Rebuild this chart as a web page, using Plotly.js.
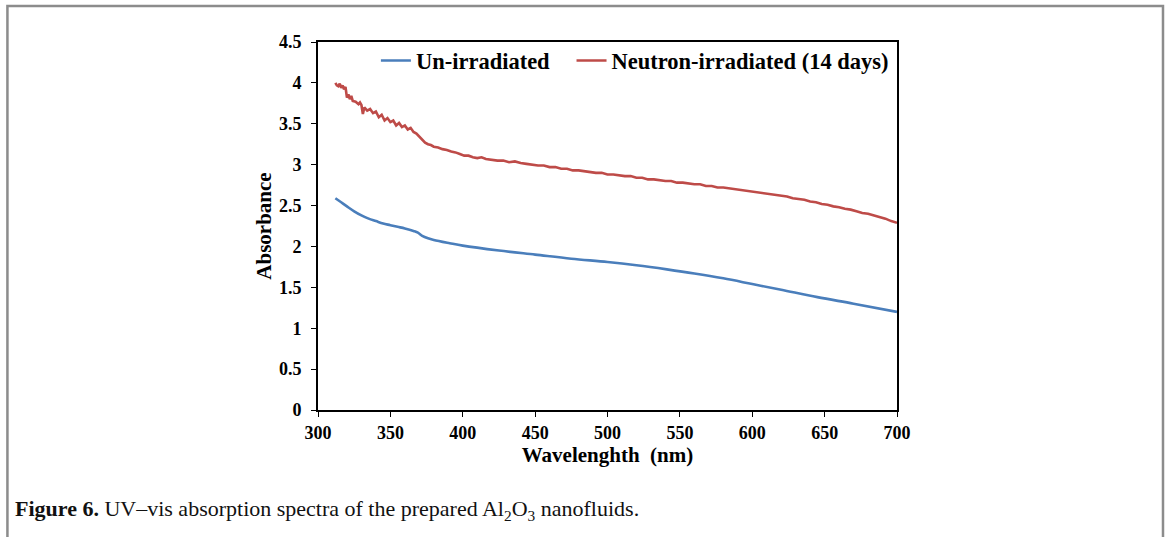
<!DOCTYPE html>
<html>
<head>
<meta charset="utf-8">
<script src="https://cdn.plot.ly/plotly-3.0.1.min.js"></script>
<style>
html,body{margin:0;padding:0;background:#fff;}
#chart{width:1167px;height:537px;}
</style>
</head>
<body>
<div id="chart"></div>
<script>
// Un-irradiated sample
const wlUn = [312,316,320,325,330,335,340,345,350,355,360,366,369,372,376,380,391,400,425,450,475,500,520,541,560,580,600,620,645,670,700];
const absUn = [2.59,2.54,2.49,2.43,2.38,2.34,2.31,2.28,2.26,2.24,2.22,2.19,2.17,2.13,2.10,2.08,2.04,2.01,1.95,1.90,1.85,1.81,1.77,1.72,1.67,1.61,1.54,1.47,1.38,1.30,1.20];

// Neutron-irradiated (14 days) sample
const wlIrr = [
  312,313,314,315,316,317,318,319,320,321,322,323,324,326,328,329,330,331,332,
  334,336,338,340,342,344,346,348,350,352,354,356,358,360,362,364,366,368,370,372,374,376,378,380,
  383,386,389,392,395,398,401,404,407,410,413,416,
  420,424,428,432,436,440,444,448,452,456,460,464,468,472,476,480,484,488,492,496,500,
  504,508,512,516,520,524,528,532,536,540,544,548,
  552,556,560,564,568,572,576,580,584,588,592,596,600,
  604,608,612,616,620,624,628,632,636,640,644,648,
  652,656,660,664,668,672,676,680,684,688,692,696,700];
const absIrr = [
  4.00,3.97,3.96,3.99,3.94,3.97,3.92,3.95,3.82,3.86,3.80,3.84,3.78,3.77,3.74,3.76,3.73,3.62,3.70,
  3.66,3.68,3.63,3.65,3.58,3.61,3.54,3.57,3.52,3.54,3.48,3.51,3.46,3.48,3.43,3.45,3.40,3.38,3.34,3.30,3.27,3.25,3.24,3.22,
  3.21,3.19,3.18,3.16,3.15,3.13,3.11,3.11,3.09,3.08,3.09,3.07,
  3.06,3.05,3.05,3.03,3.04,3.02,3.01,3.00,2.99,2.99,2.97,2.97,2.95,2.95,2.93,2.93,2.92,2.91,2.90,2.90,2.88,
  2.88,2.87,2.86,2.86,2.84,2.84,2.82,2.82,2.81,2.80,2.80,2.78,
  2.78,2.77,2.76,2.76,2.74,2.74,2.72,2.72,2.71,2.70,2.69,2.68,2.67,
  2.66,2.65,2.64,2.63,2.62,2.61,2.59,2.58,2.57,2.55,2.54,2.52,
  2.51,2.49,2.48,2.46,2.45,2.43,2.41,2.40,2.38,2.36,2.34,2.31,2.29];

const seriesNames = ['Un-irradiated&nbsp;&nbsp;&nbsp;', 'Neutron-irradiated (14 days)'];
const xTicks = [300,350,400,450,500,550,600,650,700];
const yTicks = [0,0.5,1,1.5,2,2.5,3,3.5,4,4.5];
const yTickText = ['0','0.5','1','1.5','2','2.5','3','3.5','4','4.5'];
const caption = '<b>Figure 6.</b> UV\u2013vis absorption spectra of the prepared Al<sub>2</sub>O<sub>3</sub> nanofluids.';

const serif = '"Liberation Serif", "Times New Roman", serif';

const traces = [
  {x: wlUn, y: absUn, name: seriesNames[0], mode: 'lines', line: {color: '#4a7ebb', width: 2.6, shape: 'spline', smoothing: 1}},
  {x: wlIrr, y: absIrr, name: seriesNames[1], mode: 'lines', line: {color: '#be4b48', width: 2.6}}
];

const layout = {
  width: 1167, height: 537,
  margin: {l: 318, r: 270, t: 42, b: 127},
  paper_bgcolor: '#fff', plot_bgcolor: '#fff',
  showlegend: true,
  legend: {
    orientation: 'h', x: 0.1, y: 1.007, xanchor: 'left', yanchor: 'top',
    bgcolor: 'rgba(0,0,0,0)',
    font: {family: serif, size: 22.5, color: '#000', weight: 'bold'},
    itemwidth: 30
  },
  xaxis: {
    range: [300, 700], tickvals: xTicks, ticktext: xTicks.map(String),
    showgrid: false, zeroline: false,
    showline: true, linecolor: '#000', linewidth: 2, mirror: true,
    ticks: 'outside', ticklen: 5, tickcolor: '#000', tickwidth: 1,
    tickfont: {family: serif, size: 18, color: '#000', weight: 'bold'},
    title: {text: 'Wavelenghth&nbsp;&nbsp;(nm)', font: {family: serif, size: 21, color: '#000', weight: 'bold'}, standoff: 2}
  },
  yaxis: {
    range: [0, 4.5], tickvals: yTicks, ticktext: yTickText,
    showgrid: false, zeroline: false,
    showline: true, linecolor: '#000', linewidth: 2, mirror: true,
    ticks: 'outside', ticklen: 5, tickcolor: '#000', tickwidth: 1, ticklabelstandoff: 6,
    tickfont: {family: serif, size: 18, color: '#000', weight: 'bold'},
    title: {text: 'Absorbance', font: {family: serif, size: 21, color: '#000', weight: 'bold'}, standoff: 2}
  },
  shapes: [
    {type: 'rect', xref: 'paper', yref: 'paper', x0: -0.5364, x1: 1.4594, y0: -0.40, y1: 1.0978,
     line: {color: '#8c8c8c', width: 2.5}, fillcolor: 'rgba(0,0,0,0)', layer: 'below'}
  ],
  annotations: [
    {text: caption, xref: 'paper', yref: 'paper', x: -0.527, y: -0.272, xanchor: 'left', yanchor: 'middle',
     showarrow: false, font: {family: serif, size: 22, color: '#111'}}
  ]
};

Plotly.newPlot('chart', traces, layout, {displayModeBar: false, staticPlot: true});
</script>
</body>
</html>
